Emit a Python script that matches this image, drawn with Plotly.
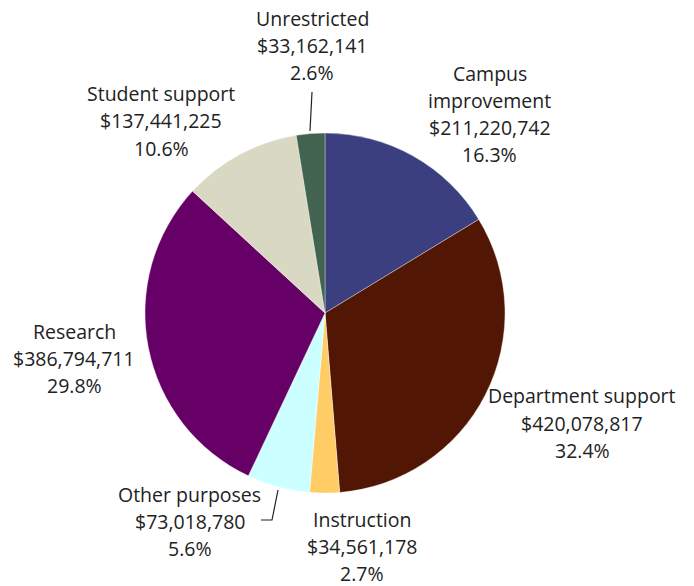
import plotly.graph_objects as go

labels = ["Campus improvement", "Department support", "Instruction", "Other purposes",
          "Research", "Student support", "Unrestricted"]
label_lines = [["Campus", "improvement"], ["Department support"], ["Instruction"], ["Other purposes"],
               ["Research"], ["Student support"], ["Unrestricted"]]
values = [211220742, 420078817, 34561178, 73018780, 386794711, 137441225, 33162141]
colors = ["#3B3F80", "#521704", "#FFCC66", "#CCFFFF", "#660066", "#D9D9C3", "#426350"]

W, H = 694, 586
cx, cy, r = 325, 313, 180
line_gap = 27

# label block centres in pixels (layout only)
label_pos = [(490, 114), (582, 423), (362, 546), (190, 521), (74, 358), (161, 121), (312, 45)]

def px(x):
    return x / W

def py(y):
    return 1 - y / H

total = sum(values)

fig = go.Figure(go.Pie(
    labels=labels, values=values, sort=False, direction="clockwise", rotation=0,
    marker=dict(colors=colors, line=dict(width=0.6, color="rgba(255,255,255,0.6)")),
    textinfo="none", hoverinfo="label+value+percent",
    showlegend=False,
    domain=dict(x=[px(cx - r), px(cx + r)], y=[py(cy + r), py(cy - r)]),
))

font = dict(family="Open Sans", size=19.5, color="#222222")
for name, v, (lx, ly) in zip(label_lines, values, label_pos):
    pct = 100 * v / total
    lines = name + [f"${v:,}", f"{pct:.1f}%"]
    n = len(lines)
    for i, t in enumerate(lines):
        yy = ly + (i - (n - 1) / 2) * line_gap
        fig.add_annotation(
            x=px(lx), y=py(yy), xref="paper", yref="paper",
            text=t, showarrow=False, xanchor="center", yanchor="middle",
            align="center", font=font,
        )

# leader lines
fig.add_shape(type="line", xref="paper", yref="paper",
              x0=px(312), y0=py(92), x1=px(310), y1=py(131),
              line=dict(color="#222222", width=1.2))
fig.add_shape(type="path", xref="paper", yref="paper",
              path=f"M {px(261)},{py(520)} L {px(272)},{py(520)} L {px(278)},{py(490)}",
              line=dict(color="#222222", width=1.2))

fig.update_layout(width=W, height=H, margin=dict(l=0, r=0, t=0, b=0),
                  paper_bgcolor="white", plot_bgcolor="white")
fig.write_html("out.html", config={"displayModeBar": False},
               post_script="document.body.style.margin='0';")
